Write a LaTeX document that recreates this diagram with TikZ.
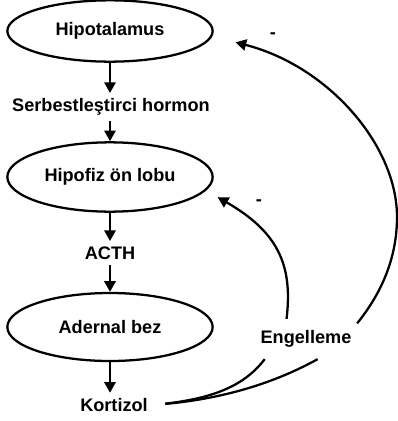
\documentclass[tikz,border=0pt]{standalone}
\usepackage{fontspec}
\setmainfont{Liberation Sans}
\usetikzlibrary{shapes.geometric,arrows.meta}

\begin{document}
\begin{tikzpicture} [x=0.75pt, y=-0.75pt, line width=1.7pt]
\tikzstyle{every node}=[font=\bfseries\fontsize{13.6}{15}\selectfont];
\tikzstyle{organ}=[draw, shape=ellipse, minimum width=154pt, inner sep=0pt];
\tikzstyle{tip}=[-{Triangle[width=8.5pt,length=8pt]}];
\useasboundingbox (0,0) rectangle (398,421);
\node [organ, minimum height=46pt] (hipot) at (110,31) {Hipotalamus};
\node (serb) at (111,107) {Serbestleştirci hormon};
\node [organ, minimum height=52pt] (hipof) at (110,177) {Hipofiz ön lobu};
\node (acth) at (110,253) {ACTH};
\node [organ, minimum height=51pt] (adrenal) at (110,327) {Adernal bez};
\node (kort) at (114,405) {Kortizol};
\node [minimum width=75pt, minimum height=28.5pt, inner sep=0pt] (engel) at (306,339) {Engelleme};
\node (minusA) at (273,36) {-};
\node (minusB) at (259,203) {-};
\draw [tip] (hipot) -- (hipot |- serb.north); % main chain
\draw [tip] (hipot |- serb.south) -- (hipof);
\draw [tip] (hipof) -- (acth);
\draw [tip] (acth) -- (adrenal);
\draw [tip] (adrenal) -- (adrenal |- kort.north);
\draw [shorten <=9pt] (kort.east) .. controls (230,398) and (280,380) .. (engel.300); % feedback
\draw [shorten <=9pt] (kort.east) .. controls (215,398) and (245,385) .. (engel.206);
\draw [tip, shorten >=18pt] (engel.17) .. controls (380,295) and (397,260) .. (397,217)
.. controls (397,145) and (328,66) .. (hipot.-3);
\draw [tip, shorten >=10pt] (engel.134) .. controls (293,265) and (278,232) .. (hipof.-8);
\end{tikzpicture}
\end{document}
